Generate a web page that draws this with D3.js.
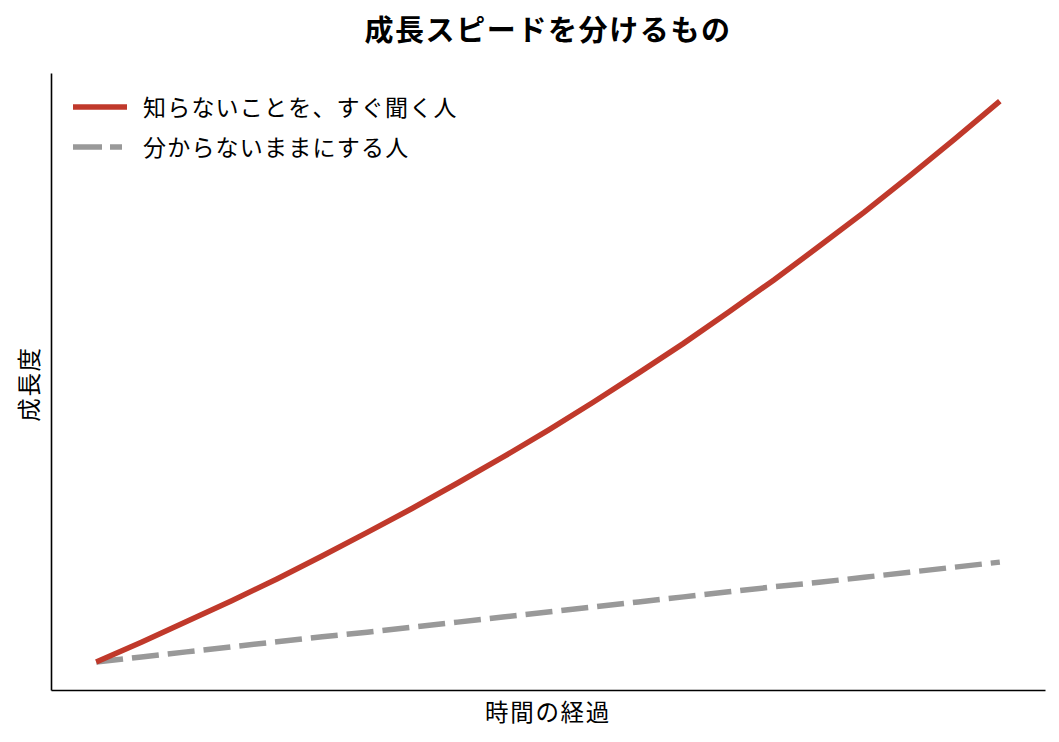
<!DOCTYPE html>
<html><head><meta charset="utf-8">
<script src="https://cdn.jsdelivr.net/npm/d3@7"></script>
<style>body{margin:0;background:#fff}svg{display:block}text{font-family:"Noto Sans CJK JP","Noto Sans",sans-serif}</style>
</head><body><svg id="c" width="1059" height="742"></svg>
<script>
const title = "成長スピードを分けるもの";
const xLabel = "時間の経過";
const yLabel = "成長度";
const seriesNames = ["知らないことを、すぐ聞く人", "分からないままにする人"];
const xValues = [0,0.5,1,1.5,2,2.5,3,3.5,4,4.5,5,5.5,6,6.5,7,7.5,8,8.5,9,9.5,10];
const askValues = [0,3.5,7.2,10.9,14.8,18.9,23.1,27.4,31.9,36.5,41.3,46.3,51.5,56.8,62.4,68.1,74.1,80.2,86.6,93.2,100];
const stayValues = [0,0.9,1.8,2.7,3.6,4.5,5.3,6.2,7.1,8.0,8.9,9.8,10.7,11.6,12.5,13.4,14.2,15.1,16.0,16.9,17.8];
const colors = ["#c0392b", "#999999"];

const svg = d3.select("#c");
const L = 51, R = 1045, T = 73, B = 690;
const x = d3.scaleLinear().domain([-0.5, 10.5]).range([L, R]);
const y = d3.scaleLinear().domain([-5, 105]).range([B, T]);

const line = d3.line().x((d,i)=>x(xValues[i])).y(d=>y(d));
svg.append("path").datum(stayValues).attr("d", line).attr("fill","none")
  .attr("stroke", colors[1]).attr("stroke-width", 5.5).attr("stroke-dasharray","27,9");
svg.append("path").datum(askValues).attr("d", line).attr("fill","none")
  .attr("stroke", colors[0]).attr("stroke-width", 5.5);

const xa = d3.axisBottom(x).tickValues([]).tickSizeOuter(0);
const ya = d3.axisLeft(y).tickValues([]).tickSizeOuter(0);
svg.append("g").attr("transform",`translate(0,${B})`).call(xa).select(".domain").attr("stroke","#000").attr("stroke-width",1.6);
svg.append("g").attr("transform",`translate(${L},0)`).call(ya).select(".domain").attr("stroke","#000").attr("stroke-width",1.6);

svg.append("text").attr("x", (L+R)/2).attr("y", 41).attr("text-anchor","middle")
  .attr("font-size", 29).attr("font-weight","bold").attr("letter-spacing", 1.6).text(title);
svg.append("text").attr("x", (L+R)/2).attr("y", 721).attr("text-anchor","middle")
  .attr("font-size", 23.5).attr("letter-spacing", 1.7).text(xLabel);
svg.append("text").attr("transform","translate(38,384) rotate(-90)").attr("text-anchor","middle")
  .attr("font-size", 23.5).attr("letter-spacing", 1.7).text(yLabel);

const leg = svg.append("g");
seriesNames.forEach((n,i)=>{
  const yy = 107 + i*40;
  leg.append("line").attr("x1",73).attr("x2",i===1?122:127).attr("y1",yy).attr("y2",yy)
    .attr("stroke",colors[i]).attr("stroke-width",5.5)
    .attr("stroke-dasharray", i===1 ? "29,8" : null);
  leg.append("text").attr("x",143).attr("y",yy+8.5).attr("font-size",23).attr("letter-spacing",1.2).text(n);
});
</script></body></html>
